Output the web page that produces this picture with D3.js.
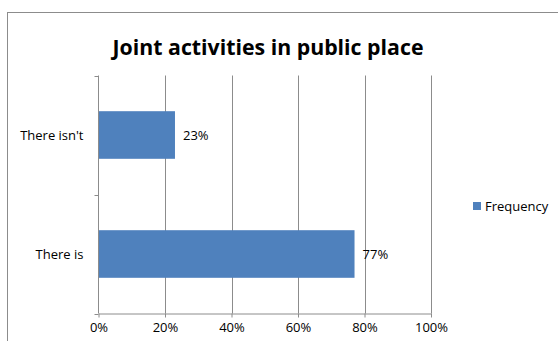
<!DOCTYPE html>
<html>
<head>
<meta charset="utf-8">
<script src="https://cdn.jsdelivr.net/npm/d3@7"></script>
<style>
  html, body { margin: 0; padding: 0; background: #fff; }
  svg { display: block; }
  text { font-family: "Open Sans", "Noto Sans", sans-serif; fill: #000; }
</style>
</head>
<body>
<svg id="chart" width="558" height="341"></svg>
<script>
// Survey answers and their share of respondents
const categories = ["There is", "There isn't"];
const frequency = [0.77, 0.23];
const valueLabels = ["77%", "23%"];
const tickValues = [0, 0.2, 0.4, 0.6, 0.8, 1.0];
const seriesName = "Frequency";
const title = "Joint activities in public place";

const svg = d3.select("#chart");
const W = 558, H = 341;
const plot = { left: 98.5, right: 431, top: 75.5, bottom: 313.5 };
const fontSize = "13px";

// Outer chart frame
svg.append("rect")
  .attr("x", 7.5).attr("y", 12.5)
  .attr("width", W + 20).attr("height", H + 20)
  .attr("fill", "#fff").attr("stroke", "#8c8c8c").attr("stroke-width", 1);

// Title
svg.append("text")
  .attr("x", 268).attr("y", 55)
  .attr("text-anchor", "middle")
  .style("font-size", "21.3px").style("font-weight", "700")
  .text(title);

const x = d3.scaleLinear().domain([0, 1]).range([plot.left, plot.right]);
// Categories run bottom-up, as in a horizontal bar chart
const y = d3.scaleBand().domain(categories)
  .range([plot.bottom, plot.top]).paddingInner(0.6).paddingOuter(0.3);

// Vertical gridlines
svg.append("g").selectAll("line")
  .data(tickValues.slice(1))
  .join("line")
  .attr("x1", d => Math.round(x(d)) + 0.5).attr("x2", d => Math.round(x(d)) + 0.5)
  .attr("y1", plot.top).attr("y2", plot.bottom)
  .attr("stroke", "#8c8c8c").attr("stroke-width", 1);

// Bars
svg.append("g").selectAll("rect")
  .data(categories)
  .join("rect")
  .attr("x", x(0))
  .attr("y", d => y(d))
  .attr("width", (d, i) => x(frequency[i]) - x(0))
  .attr("height", y.bandwidth())
  .attr("fill", "#4f81bd");

// Value labels
svg.append("g").selectAll("text")
  .data(categories)
  .join("text")
  .attr("x", (d, i) => x(frequency[i]) + 8)
  .attr("y", d => y(d) + y.bandwidth() / 2)
  .attr("dy", "0.35em")
  .style("font-size", fontSize)
  .text((d, i) => valueLabels[i]);

// Bottom axis
const xAxis = d3.axisBottom(x)
  .tickValues(tickValues)
  .tickFormat(d3.format(".0%"))
  .tickSize(4).tickSizeOuter(0).tickPadding(5);
const gx = svg.append("g")
  .attr("transform", `translate(0,${plot.bottom})`)
  .call(xAxis);
gx.selectAll("line, path").attr("stroke", "#8c8c8c");
gx.selectAll("text").style("font-size", fontSize).style("font-family", "\"Open Sans\", sans-serif").attr("fill", "#000");

// Left axis with ticks between categories
const yEdges = d3.scaleLinear().domain([0, categories.length]).range([plot.bottom, plot.top]);
const gy = svg.append("g");
gy.append("line")
  .attr("x1", plot.left).attr("x2", plot.left)
  .attr("y1", plot.top).attr("y2", plot.bottom)
  .attr("stroke", "#8c8c8c");
gy.selectAll("line.tick")
  .data(d3.range(categories.length + 1))
  .join("line").attr("class", "tick")
  .attr("x1", plot.left - 4).attr("x2", plot.left)
  .attr("y1", d => Math.round(yEdges(d)) + 0.5).attr("y2", d => Math.round(yEdges(d)) + 0.5)
  .attr("stroke", "#8c8c8c");
gy.selectAll("text")
  .data(categories)
  .join("text")
  .attr("x", plot.left - 15)
  .attr("y", d => y(d) + y.bandwidth() / 2)
  .attr("dy", "0.35em")
  .attr("text-anchor", "end")
  .style("font-size", fontSize)
  .text(d => d);

// Legend
const lg = svg.append("g").attr("transform", "translate(473,206)");
lg.append("rect").attr("x", 0).attr("y", -4).attr("width", 8).attr("height", 8).attr("fill", "#4f81bd");
lg.append("text").attr("x", 12).attr("y", 0).attr("dy", "0.35em")
  .style("font-size", fontSize).text(seriesName);
</script>
</body>
</html>
